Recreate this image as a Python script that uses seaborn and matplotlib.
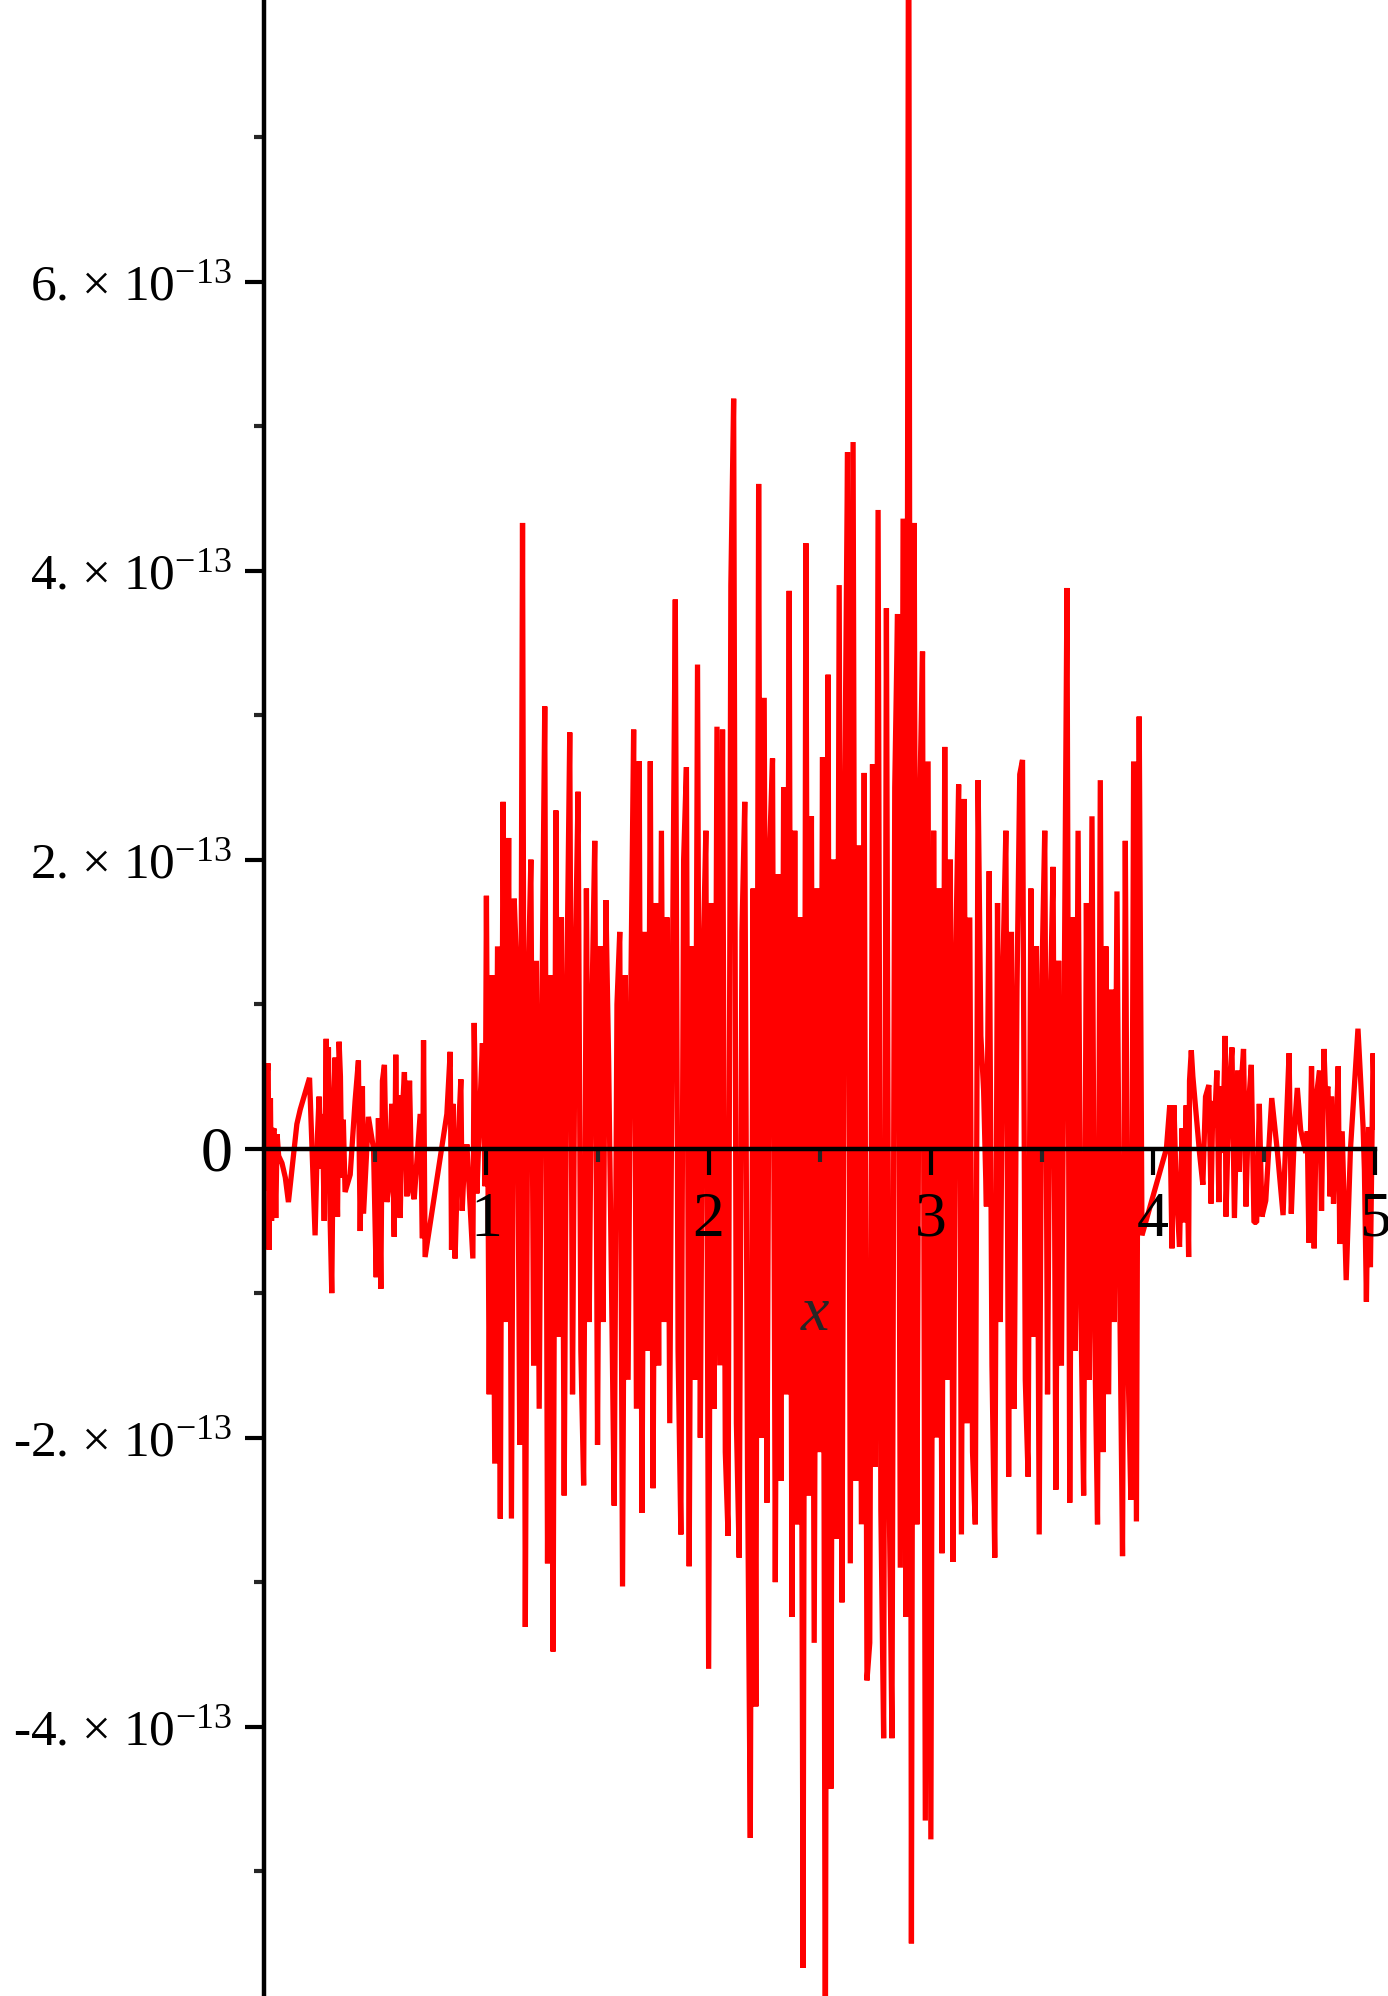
import matplotlib
matplotlib.use("Agg")
import matplotlib.pyplot as plt
import seaborn as sns
import pandas as pd
import numpy as np

# values are in units of 1e-13
SCALE = 1e-13

# left part, 0 .. 1 (sparse, small noise)
x_left = [0.000, 0.003, 0.008, 0.013, 0.018, 0.022, 0.028, 0.033, 0.038, 0.045,
          0.052, 0.058, 0.065, 0.080, 0.095, 0.109, 0.147, 0.162, 0.204, 0.229,
          0.240, 0.247, 0.256, 0.262, 0.270, 0.279, 0.284, 0.289, 0.296, 0.304,
          0.312, 0.319, 0.325, 0.330, 0.337, 0.343, 0.349, 0.356, 0.364, 0.387,
          0.409, 0.424, 0.428, 0.432, 0.442, 0.447, 0.469, 0.492, 0.504, 0.514,
          0.525, 0.532, 0.541, 0.552, 0.562, 0.574, 0.585, 0.592, 0.600, 0.606,
          0.612, 0.620, 0.631, 0.642, 0.654, 0.664, 0.675, 0.702, 0.712, 0.717,
          0.724, 0.822, 0.837, 0.843, 0.849, 0.859, 0.874, 0.885, 0.891, 0.897,
          0.912, 0.939, 0.945, 0.957, 0.972, 0.982, 0.994]
v_left = [0.00, 0.50, -0.29, 0.52, 0.59, -0.70, 0.35, -0.50, 0.12, 0.14,
          -0.48, 0.10, -0.05, -0.10, -0.20, -0.37, 0.17, 0.27, 0.49, -0.60,
          0.10, 0.36, -0.14, 0.24, -0.50, 0.76, -0.20, 0.70, -0.44, -1.00,
          0.30, 0.63, -0.10, -0.47, 0.74, 0.50, -0.20, 0.20, -0.30, -0.18,
          0.33, 0.61, -0.06, -0.57, 0.43, -0.45, 0.22, 0.00, -0.89, 0.21,
          -0.97, 0.47, 0.58, -0.37, -0.24, 0.31, -0.61, 0.65, -0.47, 0.37,
          -0.48, 0.20, 0.53, -0.33, 0.47, -0.27, -0.35, 0.24, -0.62, 0.75,
          -0.75, 0.24, 0.67, -0.70, 0.31, -0.76, 0.10, 0.48, -0.43, -0.22,
          0.03, -0.76, 0.87, -0.31, 0.33, 0.73, -0.26]

# middle part, 1 .. 3.95 (dense, large noise)
x_mid = [1.0, 1.0125, 1.025, 1.0375, 1.05, 1.0625, 1.075, 1.0875,
         1.1, 1.1125, 1.125, 1.1375, 1.15, 1.1625, 1.175, 1.1875,
         1.2, 1.2125, 1.225, 1.2375, 1.25, 1.2625, 1.275, 1.2875,
         1.3, 1.3125, 1.325, 1.3375, 1.35, 1.3625, 1.375, 1.3875,
         1.4, 1.4125, 1.425, 1.4375, 1.45, 1.4625, 1.475, 1.4875,
         1.5, 1.5125, 1.525, 1.5375, 1.55, 1.5625, 1.575, 1.5875,
         1.6, 1.6125, 1.625, 1.6375, 1.65, 1.6625, 1.675, 1.6875,
         1.7, 1.7125, 1.725, 1.7375, 1.75, 1.7625, 1.775, 1.7875,
         1.8, 1.8125, 1.825, 1.8375, 1.85, 1.8625, 1.875, 1.8875,
         1.9, 1.9125, 1.925, 1.9375, 1.95, 1.9625, 1.975, 1.9875,
         2.0, 2.0125, 2.025, 2.0375, 2.05, 2.0625, 2.075, 2.0875,
         2.1, 2.1125, 2.125, 2.1375, 2.15, 2.1625, 2.175, 2.1875,
         2.2, 2.2125, 2.225, 2.2375, 2.25, 2.2625, 2.275, 2.2875,
         2.3, 2.3125, 2.325, 2.3375, 2.35, 2.3625, 2.375, 2.3875,
         2.4, 2.4125, 2.425, 2.4375, 2.45, 2.4625, 2.475, 2.4875,
         2.5, 2.5125, 2.525, 2.5375, 2.55, 2.5625, 2.575, 2.5875,
         2.6, 2.6125, 2.625, 2.6375, 2.65, 2.6625, 2.675, 2.6875,
         2.7, 2.7125, 2.725, 2.7375, 2.75, 2.7625, 2.775, 2.7875,
         2.8, 2.8125, 2.825, 2.8375, 2.85, 2.8625, 2.875, 2.8875,
         2.9, 2.9125, 2.925, 2.9375, 2.95, 2.9625, 2.975, 2.9875,
         3.0, 3.0125, 3.025, 3.0375, 3.05, 3.0625, 3.075, 3.0875,
         3.1, 3.1125, 3.125, 3.1375, 3.15, 3.1625, 3.175, 3.1875,
         3.2, 3.2125, 3.225, 3.2375, 3.25, 3.2625, 3.275, 3.2875,
         3.3, 3.3125, 3.325, 3.3375, 3.35, 3.3625, 3.375, 3.3875,
         3.4, 3.4125, 3.425, 3.4375, 3.45, 3.4625, 3.475, 3.4875,
         3.5, 3.5125, 3.525, 3.5375, 3.55, 3.5625, 3.575, 3.5875,
         3.6, 3.6125, 3.625, 3.6375, 3.65, 3.6625, 3.675, 3.6875,
         3.7, 3.7125, 3.725, 3.7375, 3.75, 3.7625, 3.775, 3.7875,
         3.8, 3.8125, 3.825, 3.8375, 3.85, 3.8625, 3.875, 3.8875,
         3.9, 3.9125, 3.925, 3.9375, 3.95]
v_mid = [1.75, -1.70, 1.20, -2.18, 1.40, -2.56, 2.40, -1.20,
         2.15, -2.56, 1.73, 1.20, -2.05, 4.33, -3.31, 1.10,
         2.00, -1.50, 1.30, -1.80, 1.00, 3.06, -2.87, 1.20,
         -3.48, 2.34, -1.30, 1.60, -2.40, 1.20, 2.88, -1.70,
         1.30, 2.47, -1.40, -2.33, 1.80, -1.20, 1.00, 2.13,
         -2.05, 1.40, -1.20, 1.72, 0.60, -0.90, -2.47, 1.00,
         1.50, -3.03, 1.20, -1.60, 1.10, 2.90, -1.80, 2.68,
         -2.52, 1.50, -1.40, 2.68, -2.35, 1.70, -1.50, 2.20,
         -1.20, 1.60, -1.90, 1.30, 3.80, -1.40, -2.67, 2.00,
         2.64, -2.89, 1.40, -1.60, 3.35, -2.00, 1.30, 2.20,
         -3.60, 1.70, -1.80, 2.92, -1.50, 2.90, -2.10, -2.68,
         3.90, 5.19, -1.90, -2.83, 1.50, 2.40, -2.20, -4.77,
         1.80, -3.86, 4.60, -2.00, 3.12, -2.45, 2.10, 2.70,
         -3.00, 1.90, -2.30, 2.50, -1.70, 3.86, -3.24, 2.20,
         -2.60, 1.60, -5.67, 4.19, -2.40, 2.30, -3.42, 1.80,
         -2.10, 2.71, -6.50, 3.28, -4.43, 2.00, -2.70, 3.90,
         -3.14, 2.40, 4.82, -2.87, 4.89, -2.30, 2.10, -2.60,
         2.60, -3.68, -3.42, 2.66, -2.20, 4.42, -2.50, -4.08,
         3.74, -2.40, -4.08, 2.50, 3.70, -2.90, 4.36, -3.24,
         9.50, -5.50, 4.33, -2.60, 2.40, 3.44, -4.65, 2.68,
         -4.78, 2.20, -2.00, 1.80, -2.80, 2.78, -1.60, 2.00,
         -2.86, 1.40, 2.52, -2.67, 2.42, -1.90, 1.60, -2.10,
         -2.60, 2.55, 0.78, 0.40, -0.40, 1.92, -1.50, -2.83,
         1.70, -1.20, 1.30, 2.20, -2.27, 1.50, -1.80, 1.10,
         2.59, 2.69, -1.60, -2.27, 1.80, -1.30, 1.40, -2.67,
         1.20, 2.20, -1.70, 1.00, 1.95, -2.36, 1.30, -1.50,
         1.00, 3.88, -2.45, 1.60, -1.40, 2.20, -1.10, -2.40,
         1.70, -1.60, 2.30, -1.30, -2.60, 2.55, -2.10, 1.40,
         -1.70, 1.10, -1.20, 1.78, -1.00, -2.82, 2.13, -1.50,
         -2.43, 2.68, -2.58, 2.99, -0.60]

# right part, 4 .. 5 (sparse, small noise)
x_right = [4.060, 4.075, 4.085, 4.094, 4.104, 4.119, 4.130, 4.137, 4.149, 4.160,
           4.164, 4.172, 4.179, 4.209, 4.224, 4.236, 4.251, 4.261, 4.269, 4.276,
           4.287, 4.296, 4.301, 4.313, 4.324, 4.328, 4.343, 4.355, 4.366, 4.381,
           4.388, 4.397, 4.407, 4.418, 4.430, 4.442, 4.454, 4.466, 4.478, 4.490,
           4.507, 4.534, 4.560, 4.585, 4.597, 4.612, 4.622, 4.637, 4.649, 4.664,
           4.687, 4.694, 4.701, 4.713, 4.725, 4.736, 4.749, 4.758, 4.769, 4.776,
           4.787, 4.796, 4.803, 4.812, 4.824, 4.833, 4.840, 4.851, 4.869, 4.888,
           4.922, 4.945, 4.951, 4.960, 4.970, 4.978, 4.990, 5.000]
v_right = [0.00, 0.30, -0.69, 0.30, -0.27, -0.68, 0.14, -0.51, 0.30, -0.75,
           0.47, 0.68, 0.50, -0.03, -0.25, 0.36, 0.44, -0.38, 0.33, 0.15,
           0.54, -0.37, 0.43, -0.03, 0.78, -0.47, 0.43, 0.70, -0.48, 0.54,
           -0.16, 0.45, 0.69, -0.40, 0.31, 0.58, -0.51, -0.51, 0.31, -0.47,
           -0.36, 0.35, -0.03, -0.46, 0.06, 0.66, -0.45, 0.15, 0.42, 0.13,
           -0.03, 0.12, -0.65, 0.57, -0.69, 0.38, 0.54, -0.43, 0.69, 0.38,
           0.43, -0.33, 0.36, -0.38, 0.12, 0.57, -0.66, 0.12, -0.91, -0.01,
           0.83, 0.15, -0.15, -1.06, 0.15, -0.82, 0.66, 0.15]

y_ticks = [-4, -2, 0, 2, 4, 6]
y_minor = [-5, -3, -1, 1, 3, 5, 7]
x_ticks = [1, 2, 3, 4, 5]
x_minor = [0.5, 1.5, 2.5, 3.5, 4.5]

df = pd.DataFrame({
    "x": x_left + x_mid + x_right,
    "y": np.array(v_left + v_mid + v_right) * SCALE,
})

sns.set_style("white")
plt.rcParams["font.family"] = ["Liberation Serif", "DejaVu Serif"]
plt.rcParams["mathtext.fontset"] = "custom"
plt.rcParams["mathtext.rm"] = "Liberation Serif"
plt.rcParams["mathtext.it"] = "Liberation Serif:italic"

fig = plt.figure(figsize=(13.88, 19.96), dpi=100)
ax = fig.add_axes([264.2 / 1388, 0, 1111.1 / 1388, 1])

sns.lineplot(data=df, x="x", y="y", sort=False, estimator=None,
             color="#ff0000", linewidth=3.8, ax=ax,
             solid_joinstyle="bevel")

ax.set_xlim(0, 5)
ax.set_ylim(-5.864 * SCALE, 7.949 * SCALE)
ax.set_axisbelow(False)

for side in ["top", "right"]:
    ax.spines[side].set_visible(False)
ax.spines["left"].set_position(("data", 0))
ax.spines["bottom"].set_position(("data", 0))
for side in ["left", "bottom"]:
    ax.spines[side].set_linewidth(3.2)
    ax.spines[side].set_color("black")
    ax.spines[side].set_zorder(3)


def sci_label(v):
    if v == 0:
        return "0"
    return "%d. × 10$^{\\mathregular{-13}}$" % v


ax.set_yticks([t * SCALE for t in y_ticks], [sci_label(t) for t in y_ticks])
ax.set_yticks([t * SCALE for t in y_minor], minor=True)
ax.set_xticks(x_ticks, [str(t) for t in x_ticks])
ax.set_xticks(x_minor, minor=True)

ax.tick_params(left=True, bottom=True, which="both")
ax.tick_params(axis="y", which="major", direction="out", length=14, width=3,
               pad=9, labelsize=37, colors="black")
ax.tick_params(axis="y", which="minor", direction="out", length=7, width=3)
ax.tick_params(axis="x", which="major", direction="out", length=19, width=3,
               pad=12, labelsize=46, colors="black")
ax.tick_params(axis="x", which="minor", direction="out", length=9.5, width=3)

for lab in ax.get_yticklabels():
    if lab.get_text() == "0":
        lab.set_fontsize(46)

ax.set_xlabel("x", fontsize=46, fontstyle="italic", family="Liberation Serif")
ax.xaxis.set_label_coords(0.496, 0.341)
ax.xaxis.label.set_verticalalignment("center")
ax.set_ylabel("")

fig.savefig("out.png", dpi=100)
